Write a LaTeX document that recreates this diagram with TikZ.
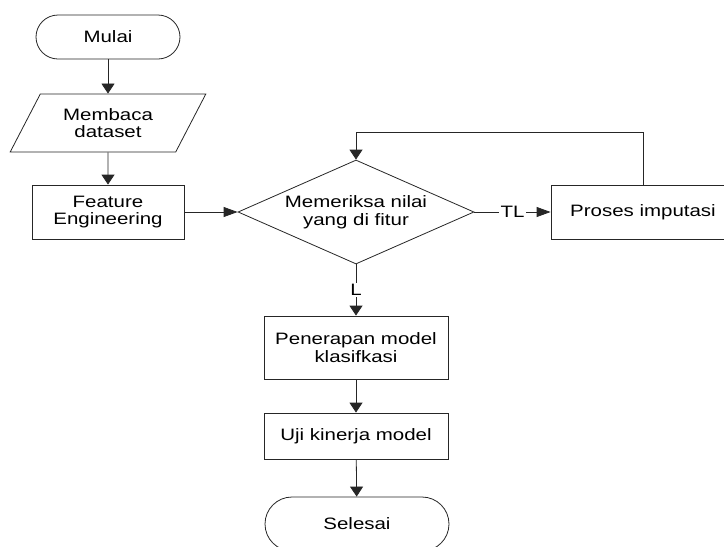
\documentclass[tikz,border=0pt]{standalone}
\usepackage{fontspec}
\setmainfont{Liberation Sans}[FakeStretch=1.24]
\usetikzlibrary{positioning,shapes.geometric,arrows.meta}
\tikzset{
  terminal/.style={draw=black!85,line width=0.8pt,rounded corners=22pt,minimum width=144pt,minimum height=44pt,align=center,font=\fontsize{16.5}{17.5}\selectfont,fill=white},
  io/.style={trapezium,trapezium left angle=56,trapezium right angle=124,trapezium stretches=true,draw=black!85,line width=0.8pt,minimum width=196pt,minimum height=58pt,inner sep=0pt,align=center,font=\fontsize{16.5}{17.5}\selectfont},
  process/.style={draw=black!85,line width=0.8pt,minimum width=184pt,minimum height=54pt,inner sep=0pt,align=center,font=\fontsize{16.5}{17.5}\selectfont,fill=white},
  decision/.style={diamond,draw=black!85,line width=0.8pt,aspect=2.27,minimum width=236pt,minimum height=104pt,inner sep=0pt,align=center,font=\fontsize{16.5}{17.5}\selectfont,fill=white},
  flow/.style={-{Triangle[length=10pt,width=13pt]},line width=0.8pt,draw=black!85},
  hflow/.style={-{Triangle[length=14pt,width=10pt]},line width=0.8pt,draw=black!85},
  lbl/.style={font=\fontsize{16.5}{17.5}\selectfont,fill=white,inner sep=1.5pt}
}

\begin{document}
\begin{tikzpicture}[x=1pt,y=-1pt]
\useasboundingbox (0,0) rectangle (724,547);

% alur utama
\node[terminal] (mulai) at (108,37) {Mulai};
\node[io] (baca) at (108,123) {Membaca\\dataset};
\node[process,minimum width=152pt] (fitur) at (108,212) {Feature\\Engineering};
\node[decision] (cek) at (356,212) {Memeriksa nilai\\yang di fitur};
\node[process] (imput) at (643,212) {Proses imputasi};
\node[process,minimum height=63pt] (model) at (356,347.5) {Penerapan model\\klasifkasi};
\node[process,minimum height=46pt] (uji) at (356,436) {Uji kinerja model};
\node[terminal,rounded corners=27pt,minimum width=184pt,minimum height=54pt] (selesai) at (357,524) {Selesai};

\draw[flow] (mulai) -- (baca);
\draw[flow] (baca) -- (fitur);
\draw[hflow] (fitur) -- (cek);
\draw[hflow] (cek) -- node[lbl]{TL} (imput);
\draw[flow] (imput.north) -- ++(0,-52) -| (cek.north);
\draw[flow] (cek) -- node[lbl]{L} (model);
\draw[flow] (model) -- (uji);
\draw[flow] (uji) -- (selesai);
\end{tikzpicture}
\end{document}
